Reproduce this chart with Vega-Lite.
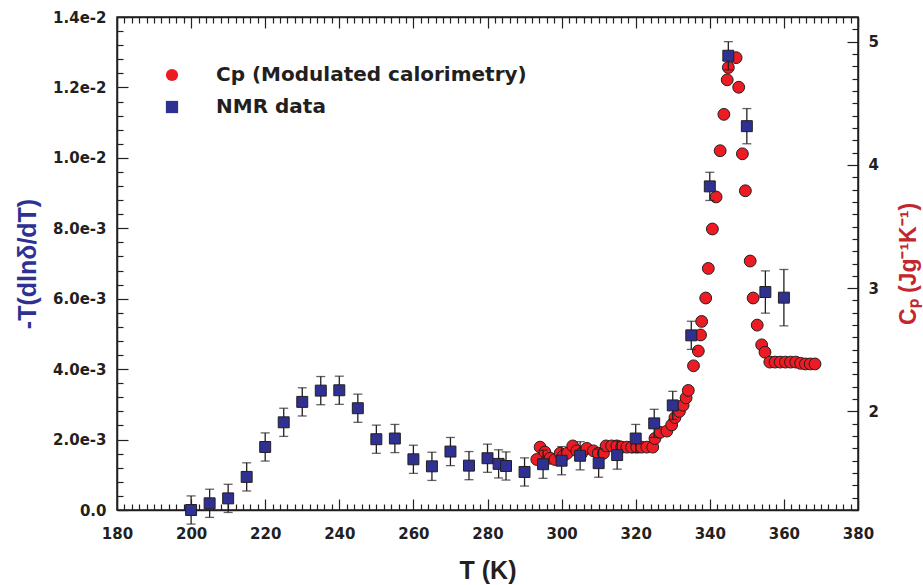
{
  "$schema": "https://vega.github.io/schema/vega-lite/v6.json",
  "width": 741,
  "height": 493,
  "autosize": {"type": "none"},
  "padding": {"left": 117, "top": 17, "right": 65, "bottom": 75},
  "background": "white",
  "config": {
    "view": {"stroke": "#231f20", "strokeWidth": 1.5},
    "axis": {
      "labelFont": "DejaVu Sans", "labelFontWeight": "bold", "labelFontSize": 15, "labelColor": "#231f20",
      "titleFont": "Liberation Sans", "titleFontWeight": "bold", "titleFontSize": 25, "titleColor": "#231f20",
      "domainColor": "#231f20", "domainWidth": 1.5, "tickColor": "#231f20", "tickWidth": 1.2,
      "grid": false, "labelFlush": false, "labelOverlap": false, "labelBound": false
    }
  },
  "datasets": {
    "cp": [
      {"T": 293.3, "Cp": 1.61}, {"T": 294.2, "Cp": 1.71}, {"T": 295.5, "Cp": 1.67}, {"T": 296.9, "Cp": 1.62},
      {"T": 298.2, "Cp": 1.61}, {"T": 299.6, "Cp": 1.66}, {"T": 300.5, "Cp": 1.64}, {"T": 301.5, "Cp": 1.66},
      {"T": 303.0, "Cp": 1.72}, {"T": 304.1, "Cp": 1.68}, {"T": 305.4, "Cp": 1.66}, {"T": 306.8, "Cp": 1.70},
      {"T": 308.6, "Cp": 1.68}, {"T": 309.9, "Cp": 1.66}, {"T": 311.3, "Cp": 1.66}, {"T": 312.0, "Cp": 1.72},
      {"T": 313.5, "Cp": 1.72}, {"T": 314.9, "Cp": 1.72}, {"T": 316.2, "Cp": 1.71}, {"T": 317.6, "Cp": 1.71},
      {"T": 318.9, "Cp": 1.71}, {"T": 320.3, "Cp": 1.71}, {"T": 321.6, "Cp": 1.71}, {"T": 323.0, "Cp": 1.71},
      {"T": 324.6, "Cp": 1.71}, {"T": 325.2, "Cp": 1.78}, {"T": 326.6, "Cp": 1.83}, {"T": 328.4, "Cp": 1.84},
      {"T": 329.7, "Cp": 1.89}, {"T": 330.6, "Cp": 1.95}, {"T": 331.8, "Cp": 2.00}, {"T": 332.8, "Cp": 2.05},
      {"T": 333.6, "Cp": 2.11}, {"T": 334.2, "Cp": 2.17}, {"T": 335.6, "Cp": 2.37}, {"T": 336.9, "Cp": 2.49},
      {"T": 337.5, "Cp": 2.62}, {"T": 337.8, "Cp": 2.73}, {"T": 338.9, "Cp": 2.92}, {"T": 339.6, "Cp": 3.16},
      {"T": 340.7, "Cp": 3.48}, {"T": 341.7, "Cp": 3.74}, {"T": 342.8, "Cp": 4.115}, {"T": 343.8, "Cp": 4.41},
      {"T": 344.7, "Cp": 4.69}, {"T": 345.0, "Cp": 4.79}, {"T": 347.1, "Cp": 4.87}, {"T": 347.8, "Cp": 4.63},
      {"T": 348.8, "Cp": 4.09}, {"T": 349.6, "Cp": 3.79}, {"T": 350.9, "Cp": 3.22}, {"T": 351.7, "Cp": 2.92},
      {"T": 352.8, "Cp": 2.70}, {"T": 354.0, "Cp": 2.54}, {"T": 354.9, "Cp": 2.48}, {"T": 356.2, "Cp": 2.40},
      {"T": 357.6, "Cp": 2.40}, {"T": 359.0, "Cp": 2.40}, {"T": 360.4, "Cp": 2.40}, {"T": 361.8, "Cp": 2.40},
      {"T": 363.2, "Cp": 2.40}, {"T": 364.5, "Cp": 2.39}, {"T": 365.8, "Cp": 2.385}, {"T": 367.1, "Cp": 2.385},
      {"T": 368.4, "Cp": 2.385}
    ],
    "nmr": [
      {"T": 200, "v": 0.0, "err": 0.0004}, {"T": 205, "v": 0.00019, "err": 0.0004}, {"T": 210, "v": 0.00033, "err": 0.0004},
      {"T": 215, "v": 0.00094, "err": 0.0004}, {"T": 220, "v": 0.00179, "err": 0.0004}, {"T": 225, "v": 0.00249, "err": 0.0004},
      {"T": 230, "v": 0.00307, "err": 0.0004}, {"T": 235, "v": 0.00339, "err": 0.0004}, {"T": 240, "v": 0.0034, "err": 0.0004},
      {"T": 245, "v": 0.00289, "err": 0.0004}, {"T": 250, "v": 0.00201, "err": 0.0004}, {"T": 255, "v": 0.00203, "err": 0.0004},
      {"T": 260, "v": 0.00144, "err": 0.0004}, {"T": 265, "v": 0.00124, "err": 0.0004}, {"T": 270, "v": 0.00166, "err": 0.0004},
      {"T": 275, "v": 0.00126, "err": 0.0004}, {"T": 280, "v": 0.00147, "err": 0.0004}, {"T": 283, "v": 0.00131, "err": 0.0004},
      {"T": 285, "v": 0.00125, "err": 0.0004}, {"T": 290, "v": 0.00108, "err": 0.0004}, {"T": 295, "v": 0.0013, "err": 0.0004},
      {"T": 300, "v": 0.0014, "err": 0.0004}, {"T": 305, "v": 0.00154, "err": 0.0004}, {"T": 310, "v": 0.00133, "err": 0.0004},
      {"T": 315, "v": 0.00156, "err": 0.0004}, {"T": 320, "v": 0.00203, "err": 0.0004}, {"T": 325, "v": 0.00246, "err": 0.0004},
      {"T": 330, "v": 0.00297, "err": 0.0004}, {"T": 335, "v": 0.00496, "err": 0.0004}, {"T": 340, "v": 0.00919, "err": 0.0004},
      {"T": 345, "v": 0.0129, "err": 0.0004}, {"T": 350, "v": 0.0109, "err": 0.0005}, {"T": 355, "v": 0.00619, "err": 0.0006},
      {"T": 360, "v": 0.00603, "err": 0.0008}
    ]
  },
  "layer": [
    {
      "data": {"name": "cp"},
      "mark": {"type": "point", "filled": true, "size": 140, "stroke": "#231f20", "strokeWidth": 1, "opacity": 1},
      "encoding": {
        "x": {
          "field": "T", "type": "quantitative",
          "scale": {"domain": [180, 380], "nice": false, "zero": false},
          "axis": {
            "orient": "bottom", "title": "T (K)", "titlePadding": 12,
            "values": [180,182,184,186,188,190,192,194,196,198,200,202,204,206,208,210,212,214,216,218,220,222,224,226,228,230,232,234,236,238,240,242,244,246,248,250,252,254,256,258,260,262,264,266,268,270,272,274,276,278,280,282,284,286,288,290,292,294,296,298,300,302,304,306,308,310,312,314,316,318,320,322,324,326,328,330,332,334,336,338,340,342,344,346,348,350,352,354,356,358,360,362,364,366,368,370,372,374,376,378,380],
            "labelExpr": "datum.value % 20 === 0 ? datum.label : ''",
            "tickSize": {"condition": {"test": "datum.value % 20 === 0", "value": -11}, "value": -6},
            "labelPadding": 27
          }
        },
        "y": {
          "field": "Cp", "type": "quantitative",
          "scale": {"domain": [1.2, 5.2], "nice": false, "zero": false},
          "axis": {
            "orient": "right", "title": "Cₚ (Jg⁻¹K⁻¹)", "titleColor": "#c1272d", "titleFontSize": 23, "titleAngle": 270, "titlePadding": 42,
            "values": [1.2,1.3,1.4,1.5,1.6,1.7,1.8,1.9,2,2.1,2.2,2.3,2.4,2.5,2.6,2.7,2.8,2.9,3,3.1,3.2,3.3,3.4,3.5,3.6,3.7,3.8,3.9,4,4.1,4.2,4.3,4.4,4.5,4.6,4.7,4.8,4.9,5,5.1,5.2],
            "labelExpr": "abs(datum.value - round(datum.value)) < 0.01 ? format(datum.value, 'd') : ''",
            "tickSize": {"condition": {"test": "abs(datum.value - round(datum.value)) < 0.01", "value": -11}, "value": -6},
            "labelPadding": 21
          }
        },
        "fill": {
          "datum": "Cp (Modulated calorimetry)", "type": "nominal",
          "scale": {"domain": ["Cp (Modulated calorimetry)", "NMR data"], "range": ["#ed1c24", "#2e3192"]},
          "legend": {
            "orient": "none", "legendX": 45, "legendY": 48, "title": null, "padding": 0, "labelLimit": 0,
            "labelFont": "DejaVu Sans", "labelFontSize": 20, "labelFontWeight": "bold", "labelColor": "#231f20",
            "symbolSize": 150, "symbolStrokeColor": "#231f20", "symbolStrokeWidth": 1, "symbolOpacity": 1,
            "labelOffset": 34, "rowPadding": 12
          }
        },
        "shape": {
          "datum": "Cp (Modulated calorimetry)", "type": "nominal",
          "scale": {"domain": ["Cp (Modulated calorimetry)", "NMR data"], "range": ["circle", "square"]},
          "legend": {
            "orient": "none", "legendX": 45, "legendY": 48, "title": null, "padding": 0, "labelLimit": 0,
            "labelFont": "DejaVu Sans", "labelFontSize": 20, "labelFontWeight": "bold", "labelColor": "#231f20",
            "symbolSize": 150, "symbolStrokeColor": "#231f20", "symbolStrokeWidth": 1, "symbolOpacity": 1,
            "labelOffset": 34, "rowPadding": 12
          }
        }
      }
    },
    {
      "data": {"name": "nmr"},
      "encoding": {
        "x": {
          "field": "T", "type": "quantitative",
          "scale": {"domain": [180, 380], "nice": false, "zero": false},
          "axis": {
            "orient": "top", "title": null, "labels": false,
            "values": [180,182,184,186,188,190,192,194,196,198,200,202,204,206,208,210,212,214,216,218,220,222,224,226,228,230,232,234,236,238,240,242,244,246,248,250,252,254,256,258,260,262,264,266,268,270,272,274,276,278,280,282,284,286,288,290,292,294,296,298,300,302,304,306,308,310,312,314,316,318,320,322,324,326,328,330,332,334,336,338,340,342,344,346,348,350,352,354,356,358,360,362,364,366,368,370,372,374,376,378,380],
            "tickSize": {"condition": {"test": "datum.value % 20 === 0", "value": -11}, "value": -6}
          }
        },
        "y": {
          "field": "v", "type": "quantitative",
          "scale": {"domain": [0, 0.014], "nice": false, "zero": false},
          "axis": {
            "orient": "left", "title": "-T(dlnδ/dT)", "titleColor": "#2e3192", "titlePadding": 12,
            "values": [0,0.0004,0.0008,0.0012,0.0016,0.002,0.0024,0.0028,0.0032,0.0036,0.004,0.0044,0.0048,0.0052,0.0056,0.006,0.0064,0.0068,0.0072,0.0076,0.008,0.0084,0.0088,0.0092,0.0096,0.01,0.0104,0.0108,0.0112,0.0116,0.012,0.0124,0.0128,0.0132,0.0136,0.014],
            "labelExpr": "abs(datum.value / 0.002 - round(datum.value / 0.002)) < 0.01 ? (datum.value == 0 ? '0.0' : format(datum.value, '.1e')) : ''",
            "tickSize": {"condition": {"test": "abs(datum.value / 0.002 - round(datum.value / 0.002)) < 0.01", "value": -11}, "value": -6},
            "labelPadding": 22
          }
        }
      },
      "layer": [
        {
          "mark": {"type": "errorbar", "color": "#231f20", "thickness": 1.3, "ticks": {"size": 9, "thickness": 1.3, "color": "#231f20"}},
          "encoding": {"yError": {"field": "err"}}
        },
        {
          "mark": {"type": "point", "filled": true, "size": 120, "stroke": "#231f20", "strokeWidth": 1, "opacity": 1},
          "encoding": {
            "fill": {"datum": "NMR data", "type": "nominal"},
            "shape": {"datum": "NMR data", "type": "nominal"}
          }
        }
      ]
    }
  ],
  "resolve": {"scale": {"x": "independent", "y": "independent"}}
}
